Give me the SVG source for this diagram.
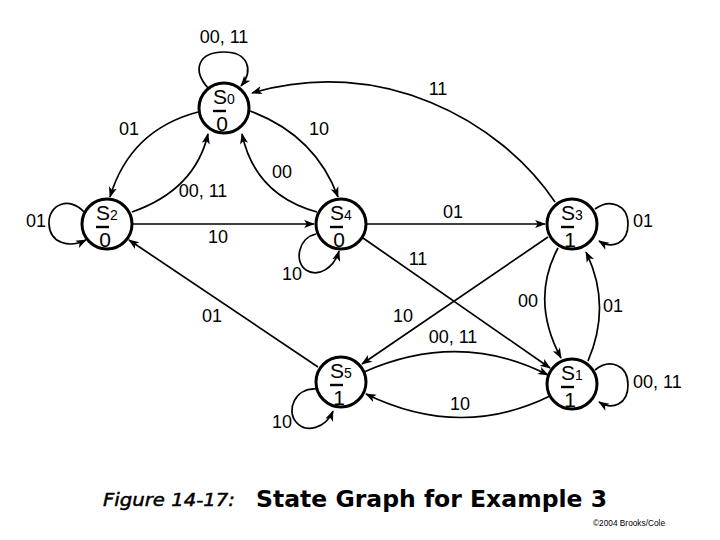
<svg xmlns="http://www.w3.org/2000/svg" width="720" height="540" viewBox="0 0 720 540">
<style>
.node circle{fill:#fff;stroke:#000;stroke-width:3}
.node line{stroke:#000;stroke-width:2.4}
.nt{font-family:"Liberation Sans",Arial,sans-serif;font-size:21px;fill:#000}
.sub{font-size:14px}
.edges path{fill:none;stroke:#000;stroke-width:1.7;marker-end:url(#arr)}
.lbl{font-family:"Liberation Sans",Arial,sans-serif;font-size:18px;fill:#000;text-anchor:middle}
.lbls{font-family:"Liberation Sans",Arial,sans-serif;font-size:18px;fill:#000}
</style>
<defs>
<marker id="arr" viewBox="0 0 12 10" refX="11" refY="5" markerWidth="12" markerHeight="9" markerUnits="userSpaceOnUse" orient="auto">
<path d="M0,0.5 L12,5 L0,9.5 L3,5 z" fill="#000"/>
</marker>
</defs>
<rect width="720" height="540" fill="#fff"/>

<g id="connectors" class="edges">
<path d="M208,88 C192,70 198,52 224,52 C248,52 254,70 241,86"/>
<path d="M84,212 C70,196 48,204 49,224 C50,244 70,248 86,240"/>
<path d="M316,234 C298,238 294,262 306,270 C318,278 334,268 339,251"/>
<path d="M595,209 C610,198 628,205 628,224 C628,244 612,249 599,241"/>
<path d="M595,370 C610,358 628,365 628,385 C628,405 612,410 599,402"/>
<path d="M316,389 C295,388 286,410 296,422 C306,434 326,428 333,411"/>
<path d="M198,112 Q130,130 110,197"/>
<path d="M132,212 Q195,190 208,134"/>
<path d="M250,111 Q315,135 338,197"/>
<path d="M317,212 Q255,195 242,134"/>
<path d="M555,202 C500,120 380,55 252,93"/>
<path d="M133,224 L314,224"/>
<path d="M367,224 L545,224"/>
<path d="M363,238 L550,368"/>
<path d="M548,237 L362,364"/>
<path d="M364,372 Q460,330 548,375"/>
<path d="M550,396 Q460,440 366,394"/>
<path d="M558,248 Q530,300 561,358"/>
<path d="M588,361 Q612,305 586,252"/>
<path d="M318,367 L129,240"/>
</g>

<g id="edge-labels">
<text class="lbl" x="224" y="43">00, 11</text>
<text class="lbl" x="129" y="135">01</text>
<text class="lbl" x="203" y="197">00, 11</text>
<text class="lbl" x="319" y="135">10</text>
<text class="lbl" x="282" y="178">00</text>
<text class="lbl" x="438" y="95">11</text>
<text class="lbl" x="36" y="227">01</text>
<text class="lbl" x="218" y="243">10</text>
<text class="lbl" x="292" y="280">10</text>
<text class="lbl" x="453" y="218">01</text>
<text class="lbls" x="633" y="227">01</text>
<text class="lbl" x="418" y="265">11</text>
<text class="lbl" x="403" y="322">10</text>
<text class="lbl" x="528" y="307">00</text>
<text class="lbls" x="603" y="312">01</text>
<text class="lbl" x="212" y="322">01</text>
<text class="lbl" x="453" y="343">00, 11</text>
<text class="lbls" x="633" y="388">00, 11</text>
<text class="lbl" x="460" y="410">10</text>
<text class="lbl" x="282" y="428">10</text>
</g>

<g id="S0" class="node">
<circle cx="224" cy="108" r="25"/>
<text class="nt" x="213" y="104">S<tspan class="sub">0</tspan></text>
<line x1="213" y1="111" x2="226" y2="111"/>
<text class="nt" x="222" y="131" text-anchor="middle">0</text>
</g>
<g id="S2" class="node">
<circle cx="107" cy="224" r="25"/>
<text class="nt" x="96" y="220">S<tspan class="sub">2</tspan></text>
<line x1="96" y1="227" x2="109" y2="227"/>
<text class="nt" x="105" y="247" text-anchor="middle">0</text>
</g>
<g id="S4" class="node">
<circle cx="341" cy="224" r="25"/>
<text class="nt" x="330" y="220">S<tspan class="sub">4</tspan></text>
<line x1="330" y1="227" x2="343" y2="227"/>
<text class="nt" x="339" y="247" text-anchor="middle">0</text>
</g>
<g id="S3" class="node">
<circle cx="572" cy="224" r="25"/>
<text class="nt" x="561" y="220">S<tspan class="sub">3</tspan></text>
<line x1="561" y1="227" x2="574" y2="227"/>
<text class="nt" x="570" y="247" text-anchor="middle">1</text>
</g>
<g id="S1" class="node">
<circle cx="572" cy="384" r="25"/>
<text class="nt" x="561" y="380">S<tspan class="sub">1</tspan></text>
<line x1="561" y1="387" x2="574" y2="387"/>
<text class="nt" x="570" y="407" text-anchor="middle">1</text>
</g>
<g id="S5" class="node">
<circle cx="341" cy="382" r="25"/>
<text class="nt" x="330" y="378">S<tspan class="sub">5</tspan></text>
<line x1="330" y1="385" x2="343" y2="385"/>
<text class="nt" x="339" y="405" text-anchor="middle">1</text>
</g>

<g id="caption">
<text x="103" y="506" font-family="'DejaVu Sans',Verdana,sans-serif" font-style="italic" font-size="18" stroke="#000" stroke-width="0.5" textLength="132" lengthAdjust="spacingAndGlyphs">Figure 14-17:</text>
<text x="256" y="507" font-family="'DejaVu Sans',Verdana,sans-serif" font-weight="bold" font-size="23" textLength="351" lengthAdjust="spacingAndGlyphs">State Graph for Example 3</text>
<text x="593" y="526" font-family="'Liberation Sans',Arial,sans-serif" font-size="9" textLength="72" lengthAdjust="spacingAndGlyphs">©2004 Brooks/Cole</text>
</g>
</svg>
